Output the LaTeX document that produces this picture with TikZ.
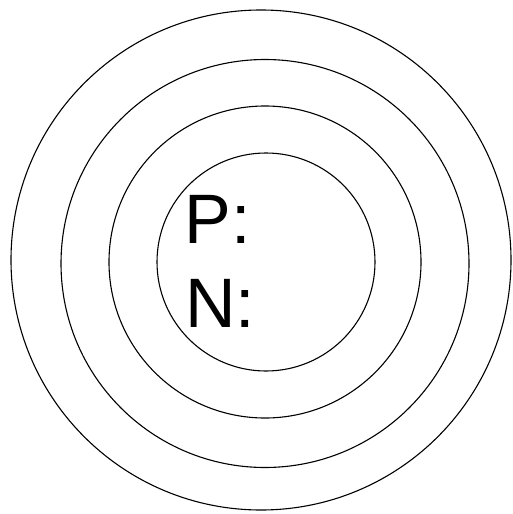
\documentclass[tikz,border=0pt]{standalone}
\usepackage{fontspec}
\setmainfont{Liberation Sans}
\begin{document}
\begin{tikzpicture}[x=1pt,y=-1pt,
  ring/.style={draw=black,line width=1.1pt},
  lbl/.style={anchor=base west,inner sep=0pt,font=\fontsize{70}{70}\selectfont}]
\useasboundingbox (0,0) rectangle (512,514);
\node[ring,circle,minimum size=500pt,inner sep=0pt] (r1) at (261,260) {};
\node[ring,circle,minimum size=408pt,inner sep=0pt] (r2) at (265,263.5) {};
\node[ring,circle,minimum size=312pt,inner sep=0pt] (r3) at (265,262) {};
\node[ring,circle,minimum size=218pt,inner sep=0pt] (r4) at (266,262) {};
\node[lbl] (p) at (184.5,243) {P:};
\node[lbl] (n) at (185,327) {N:};
\end{tikzpicture}
\end{document}
